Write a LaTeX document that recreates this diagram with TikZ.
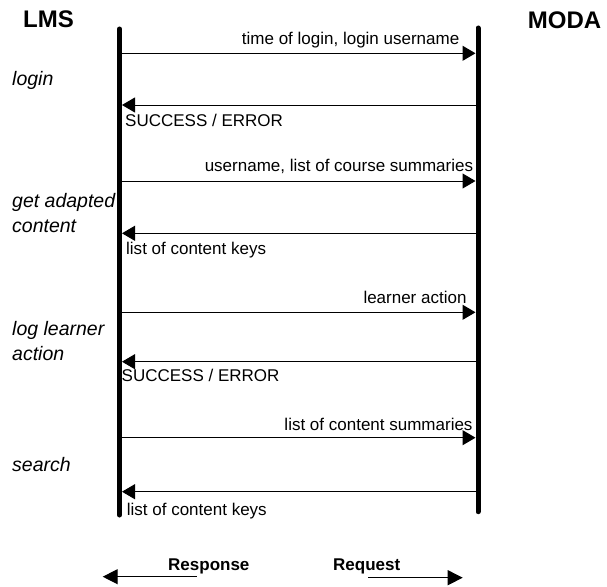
\documentclass[tikz,border=0pt]{standalone}
\usepackage{fontspec}
\setmainfont{Liberation Sans}
\usetikzlibrary{arrows.meta}
\begin{document}
\begin{tikzpicture}[x=1pt,y=-1pt,
  lifeline/.style={line width=5pt, line cap=round},
  msg/.style={line width=1pt, -{Triangle[length=13pt,width=15pt]}},
  msgtext/.style={inner sep=0pt, font=\fontsize{17}{20}\selectfont},
  phase/.style={inner sep=0pt, anchor=base west, font=\fontsize{19.5}{23}\selectfont\itshape},
  actor/.style={inner sep=0pt, anchor=base west, font=\fontsize{24}{28}\selectfont\bfseries},
  legend/.style={inner sep=0pt, anchor=base west, font=\fontsize{17}{20}\selectfont\bfseries},
  legarrow/.style={line width=1.2pt, -{Triangle[length=15pt,width=15pt]}}
]
\useasboundingbox (0,0) rectangle (607,586);

% actors
\node[actor] (lms) at (23,27.5) {LMS};
\node[actor] (moda) at (527.7,28.3) {MODA};

% lifelines
\coordinate (lmsTop) at (119.5,29);
\coordinate (lmsBot) at (119.5,515);
\coordinate (modaTop) at (478,28);
\coordinate (modaBot) at (478,511.7);
\draw[lifeline] (lmsTop) -- (lmsBot);
\draw[lifeline] (modaTop) -- (modaBot);

% message end points
\coordinate (L1) at (119.5,53.3);  \coordinate (M1) at (475.5,53.3);
\coordinate (M2) at (478,105);     \coordinate (L2) at (122,105);
\coordinate (L3) at (119.5,181);   \coordinate (M3) at (475.5,181);
\coordinate (M4) at (478,233.3);   \coordinate (L4) at (122,233.3);
\coordinate (L5) at (119.5,312.3); \coordinate (M5) at (475.5,312.3);
\coordinate (M6) at (478,361.7);   \coordinate (L6) at (122,361.7);
\coordinate (L7) at (119.5,437.7); \coordinate (M7) at (475.5,437.7);
\coordinate (M8) at (478,491.7);   \coordinate (L8) at (122,491.7);

\draw[msg] (L1) -- (M1);
\draw[msg] (M2) -- (L2);
\draw[msg] (L3) -- (M3);
\draw[msg] (M4) -- (L4);
\draw[msg] (L5) -- (M5);
\draw[msg] (M6) -- (L6);
\draw[msg] (L7) -- (M7);
\draw[msg] (M8) -- (L8);

% message labels
\node[msgtext, anchor=base east] (t1) at (459.5,45) {time of login, login username};
\node[msgtext, anchor=base west] (t2) at (125,126) {SUCCESS / ERROR};
\node[msgtext, anchor=base east] (t3) at (473.3,171.7) {username, list of course summaries};
\node[msgtext, anchor=base west] (t4) at (126,254) {list of content keys};
\node[msgtext, anchor=base east] (t5) at (466.7,303) {learner action};
\node[msgtext, anchor=base west] (t6) at (121.5,381.7) {SUCCESS / ERROR};
\node[msgtext, anchor=base east] (t7) at (472.7,430) {list of content summaries};
\node[msgtext, anchor=base west] (t8) at (126.7,515) {list of content keys};

% phases
\node[phase] (p1) at (12,85) {login};
\node[phase] (p2a) at (12,207) {get adapted};
\node[phase] (p2b) at (12,232) {content};
\node[phase] (p3a) at (12,335.7) {log learner};
\node[phase] (p3b) at (12,360) {action};
\node[phase] (p4) at (12,471.7) {search};

% legend
\node[legend] (resp) at (168,570.7) {Response};
\node[legend] (req) at (333,570.7) {Request};
\coordinate (respS) at (196.7,576.7);
\coordinate (respE) at (102.7,576.7);
\coordinate (reqS) at (368,577.7);
\coordinate (reqE) at (462.7,577.7);
\draw[legarrow] (respS) -- (respE);
\draw[legarrow] (reqS) -- (reqE);
\end{tikzpicture}
\end{document}
